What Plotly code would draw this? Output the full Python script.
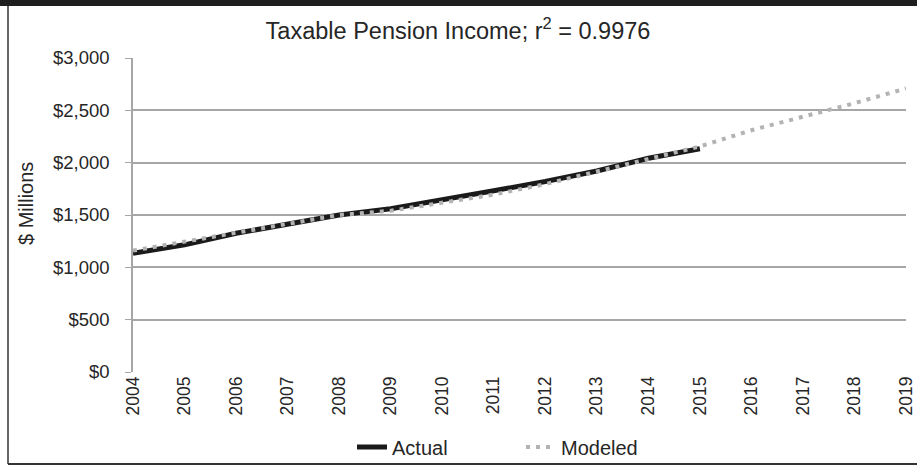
import plotly.graph_objects as go

years = [str(y) for y in range(2004, 2020)]
actual = [1135, 1215, 1325, 1411, 1500, 1560, 1652, 1732, 1820, 1920, 2042, 2133]
modeled = [1160, 1247, 1335, 1420, 1500, 1540, 1620, 1695, 1795, 1912, 2030, 2155, 2310, 2440, 2568, 2709]

W, H = 917, 466
ML, MR, MT, MB = 133, 11, 58, 94
pw = W - ML - MR
ph = H - MT - MB


def px(x):
    return (x - ML) / pw


def py(y):
    return (H - MB - y) / ph


fnt = "Liberation Sans, Arial, sans-serif"

fig = go.Figure()
fig.add_trace(go.Scatter(x=years[:len(actual)], y=actual, mode='lines', name='Actual',
                         line=dict(color='#1a1a1a', width=5)))
fig.add_trace(go.Scatter(x=years, y=modeled, mode='lines', name='Modeled',
                         line=dict(color='#b3b3b3', width=4, dash='4px,6px')))

# frame around the chart
shapes = [
    dict(type='rect', xref='paper', yref='paper', x0=px(0), x1=px(W), y0=py(6), y1=py(-2),
         fillcolor='#1e1e1e', line_width=0, layer='above'),
    dict(type='line', xref='paper', yref='paper', x0=px(8), x1=px(8), y0=py(6), y1=py(464),
         line=dict(color='#333333', width=1.5)),
    dict(type='line', xref='paper', yref='paper', x0=px(8), x1=px(W), y0=py(464), y1=py(464),
         line=dict(color='#333333', width=2)),
]

fig.update_layout(
    width=W, height=H,
    margin=dict(l=ML, r=MR, t=MT, b=MB, autoexpand=False),
    paper_bgcolor='white', plot_bgcolor='white',
    font=dict(family=fnt, color='#262626', size=18),
    title=dict(text='Taxable Pension Income; r<sup>2</sup> = 0.9976', x=458 / W, xanchor='center',
               xref='container', y=1 - 31 / H, yanchor='middle',
               font=dict(size=23.5, family=fnt, color='#262626')),
    showlegend=True,
    legend=dict(orientation='h', xref='container', yref='container', x=352 / W, xanchor='left',
                y=1 - 447 / H, yanchor='middle',
                font=dict(size=20, family=fnt), bgcolor='rgba(0,0,0,0)',
                entrywidth=124, entrywidthmode='pixels'),
    shapes=shapes,
    annotations=[dict(text='$ Millions', xref='paper', yref='paper', x=px(26), y=py(203),
                      xanchor='center', yanchor='middle', textangle=-90, showarrow=False,
                      font=dict(size=20, family=fnt, color='#262626'))],
)
fig.update_xaxes(type='category', range=[0, 15], showgrid=False, zeroline=False, automargin=False,
                 showline=False, tickangle=-90, tickfont=dict(size=17.5, family=fnt),
                 ticks='', ticklen=0)
fig.update_yaxes(range=[0, 3000], dtick=500, tickprefix='$', tickformat=',', automargin=False,
                 showgrid=True, gridcolor='#a6a6a6', gridwidth=1.5, zeroline=False,
                 showline=True, linecolor='#a6a6a6', linewidth=1.5,
                 ticks='outside', ticklen=6, tickcolor='#a6a6a6', ticklabelstandoff=12,
                 tickfont=dict(size=18.5, family=fnt))

fig.write_html("out.html", config={'displayModeBar': False},
               post_script="document.body.style.margin='0';document.body.style.overflow='hidden';"
                           "document.documentElement.style.overflow='hidden';")
